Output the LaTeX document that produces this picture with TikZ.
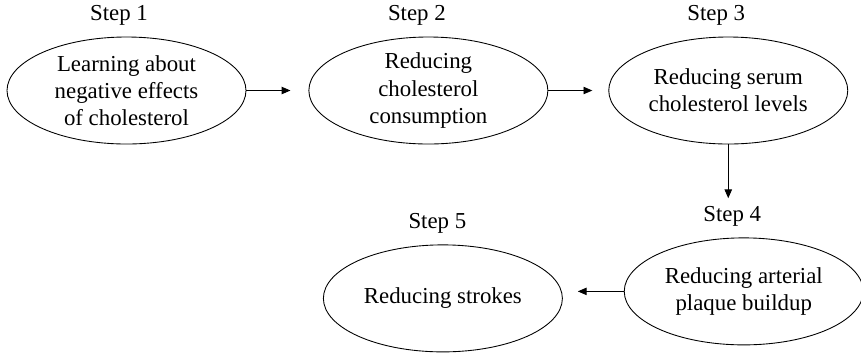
\documentclass[tikz,border=0pt]{standalone}
\usepackage{fontspec}
\setmainfont{Liberation Serif}
\usetikzlibrary{
  arrows.meta,
  positioning,
  shapes.geometric
}
\tikzset{
  stepoval/.style={draw, ellipse, line width=0.5pt, inner sep=0pt,
    minimum width=4.78cm, minimum height=2.14cm,
    align=center, font=\fontsize{13}{15.4}\selectfont},
  steplbl/.style={inner sep=0pt, font=\fontsize{13}{15.4}\selectfont},
  arr/.style={-{Triangle[length=5pt, width=4.2pt]}, line width=0.5pt},
}

\begin{document}
\begin{tikzpicture}
  \useasboundingbox (0,0) rectangle (17.22,-7.06);
  \node[stepoval] (e1) at (2.53,-1.81)
    {Learning about\\negative effects\\of cholesterol};
  \node[stepoval, right=1.24cm of e1] (e2)
    {Reducing\\cholesterol\\consumption};
  \node[stepoval, right=1.2cm of e2] (e3)
    {Reducing serum\\cholesterol levels};
  \node[stepoval, below=1.86cm of e3, xshift=0.31cm] (e4)
    {Reducing arterial\\plaque buildup};
  \node[stepoval, left=1.22cm of e4, yshift=-0.14cm] (e5)
    {Reducing strokes};
  % step numbers
  \node[steplbl, above=0.22cm of e1, xshift=-0.15cm] (s1) {Step 1};
  \node[steplbl, above=0.22cm of e2, xshift=-0.23cm] (s2) {Step 2};
  \node[steplbl, above=0.22cm of e3, xshift=-0.24cm] (s3) {Step 3};
  \node[steplbl, above=0.22cm of e4, xshift=-0.23cm] (s4) {Step 4};
  \node[steplbl, above=0.22cm of e5, xshift=-0.11cm] (s5) {Step 5};
  \draw[arr, shorten >=0.36cm] (e1) -- (e2);
  \draw[arr, shorten >=0.32cm] (e2) -- (e3);
  \draw[arr, shorten >=0.15cm] (e3) -- (e3.south |- s4.north);
  \draw[arr, shorten >=0.3cm] (e4.west) -- (e4.west -| e5.east);
\end{tikzpicture}
\end{document}
